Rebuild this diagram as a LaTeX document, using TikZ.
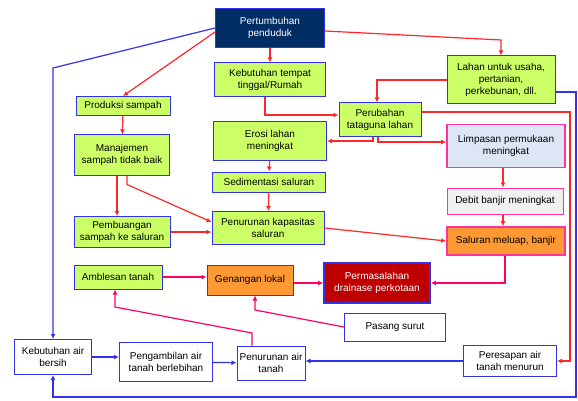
\documentclass[tikz,border=0pt]{standalone}
\usepackage{fontspec}
\setmainfont{Liberation Sans}
\usetikzlibrary{arrows.meta}
\definecolor{navy}{RGB}{0,45,100}
\definecolor{lgreen}{RGB}{204,255,102}
\definecolor{bblue}{RGB}{50,50,230}
\definecolor{lred}{RGB}{255,40,40}
\definecolor{lpink}{RGB}{255,0,102}
\definecolor{pinkb}{RGB}{255,51,153}
\definecolor{lorange}{RGB}{255,153,51}
\definecolor{dred}{RGB}{190,0,0}
\definecolor{lblue}{RGB}{220,230,245}
\definecolor{lgray}{RGB}{240,240,240}
\begin{document}
\begin{tikzpicture}[x=1pt,y=-1pt,
  box/.style={draw=bblue,line width=1pt,fill=lgreen,align=center,inner sep=1pt,
    font=\fontsize{10}{12}\selectfont},
  wbox/.style={box,fill=white},
  pbox/.style={box,draw=pinkb,line width=1.6pt},
  rarr/.style={draw=lred,line width=1.2pt,-{Latex[length=5pt,width=5pt]}},
  barr/.style={rarr,draw=bblue},
  parr/.style={rarr,draw=lpink}]
\useasboundingbox (0,0) rectangle (578,401);

% boxes
\node[box,fill=navy,text=white,minimum width=109pt,minimum height=39pt] (pert) at (270,28) {Pertumbuhan\\penduduk};
\node[box,minimum width=111pt,minimum height=34pt] (rumah) at (270,80) {Kebutuhan tempat\\tinggal/Rumah};
\node[box,minimum width=108pt,minimum height=48pt] (lahan) at (501,80) {Lahan untuk usaha,\\pertanian,\\perkebunan, dll.};
\node[box,minimum width=94pt,minimum height=19pt] (produksi) at (123,106) {Produksi sampah};
\node[box,minimum width=95pt,minimum height=40pt] (manajemen) at (122,155) {Manajemen\\sampah tidak baik};
\node[box,minimum width=82pt,minimum height=34pt] (tataguna) at (380,120) {Perubahan\\tataguna lahan};
\node[box,minimum width=113pt,minimum height=38pt] (erosi) at (270,141) {Erosi lahan\\meningkat};
\node[pbox,fill=lblue,minimum width=118pt,minimum height=43pt] (limpasan) at (506,146) {Limpasan permukaan\\meningkat};
\node[box,minimum width=113pt,minimum height=20pt] (sedimentasi) at (269,182) {Sedimentasi saluran};
\node[pbox,fill=lgray,line width=1pt,minimum width=116pt,minimum height=26pt] (debit) at (505,201) {Debit banjir meningkat};
\node[box,minimum width=96pt,minimum height=31pt] (pembuangan) at (122,232) {Pembuangan\\sampah ke saluran};
\node[box,minimum width=112pt,minimum height=33pt] (kapasitas) at (268,228) {Penurunan kapasitas\\saluran};
\node[pbox,fill=lorange,minimum width=118pt,minimum height=28pt] (meluap) at (506,241) {Saluran meluap, banjir};
\node[box,minimum width=88pt,minimum height=24pt] (amblesan) at (118,277) {Amblesan tanah};
\node[box,fill=lorange,minimum width=86pt,minimum height=30pt] (genangan) at (250,280) {Genangan lokal};
\node[box,fill=dred,text=white,line width=1.6pt,minimum width=106pt,minimum height=40pt] (drainase) at (377,283) {Permasalahan\\drainase perkotaan};
\node[wbox,minimum width=101pt,minimum height=28pt] (pasang) at (395,327) {Pasang surut};
\node[wbox,minimum width=77pt,minimum height=35pt] (airbersih) at (53,357) {Kebutuhan air\\bersih};
\node[wbox,minimum width=93pt,minimum height=39pt] (pengambilan) at (166,362) {Pengambilan air\\tanah berlebihan};
\node[wbox,minimum width=68pt,minimum height=34pt] (penurunanair) at (271,363) {Penurunan air\\tanah};
\node[wbox,minimum width=93pt,minimum height=31pt] (peresapan) at (510,361) {Peresapan air\\tanah menurun};

% bend points
\coordinate (bl) at (53,68);
\coordinate (bk) at (576,397);
\coordinate (rk) at (570,112);
\coordinate (ps) at (255,310);
\coordinate (pa1) at (252,333);
\coordinate (pa2) at (115,307);

% red arrows
\draw[rarr] ([yshift=-4pt]pert.west) -- (produksi.north);
\draw[rarr] (pert) -- (rumah);
\draw[rarr] ([yshift=-3pt]pert.east) -- (lahan.north |- 0,40) -- (lahan.north);
\draw[rarr] ([xshift=-5pt]rumah.south) |- ([yshift=5pt]tataguna.west);
\draw[rarr] (lahan.west) -| ([xshift=-3pt]tataguna.north);
\draw[rarr] ([yshift=8pt]tataguna.east) -| (rk |- peresapan.east) -- (peresapan.east);
\draw[rarr] ([xshift=-7pt]tataguna.south) |- (erosi.east);
\draw[rarr] ([xshift=-2pt]tataguna.south) |- ([yshift=4pt]limpasan.west);
\draw[rarr] (erosi) -- (sedimentasi);
\draw[rarr] (sedimentasi) -- (kapasitas);
\draw[rarr] (produksi) -- (manajemen);
\draw[rarr] ([xshift=-5pt]manajemen.south) -- ([xshift=-5pt]pembuangan.north);
\draw[rarr] ([xshift=5pt]manajemen.south) -- ++(0,9) -- ([yshift=6pt]kapasitas.west);
\draw[rarr] (pembuangan.east) -- (pembuangan.east -| kapasitas.west);
\draw[rarr] (kapasitas.east) -- (meluap.west);
\draw[rarr] ([xshift=-3pt]limpasan.south) -- ([xshift=-2pt]debit.north);
\draw[rarr] ([xshift=-2pt]debit.south) -- ([xshift=-3pt]meluap.north);

% pink arrows
\draw[parr] ([xshift=-1pt]meluap.south) |- (drainase.east);
\draw[parr] (amblesan.east) -- (amblesan.east -| genangan.west);
\draw[parr] (genangan.east |- drainase.west) -- (drainase.west);
\draw[parr] (pasang.west) -- (ps) -- (ps |- genangan.south);
\draw[parr] (pa1 |- penurunanair.north) -- (pa1) -- (pa2) -- (pa2 |- amblesan.south);

% blue arrows
\draw[barr] (pert.west) -- (bl) -- (airbersih.north);
\draw[barr] ([yshift=-12pt]lahan.east) -| (bk) -| (airbersih.south);
\draw[barr] (airbersih.east) -- (airbersih.east -| pengambilan.west);
\draw[barr] (pengambilan) -- (penurunanair);
\draw[barr] (peresapan.west) -- (peresapan.west -| penurunanair.east);
\end{tikzpicture}
\end{document}
